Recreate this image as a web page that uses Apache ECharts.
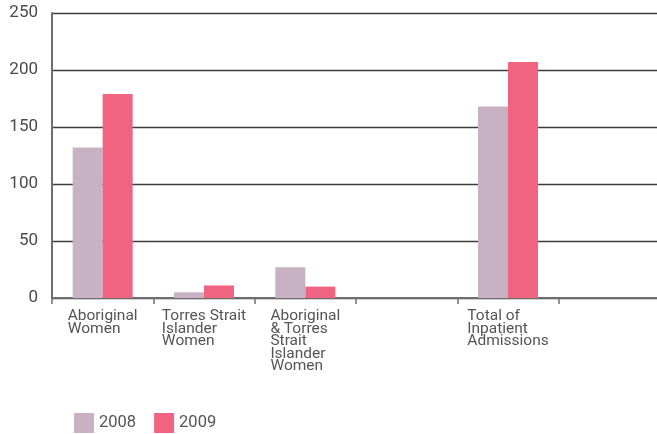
<!doctype html>
<html lang="en">
<head>
    <meta charset="UTF-8">
    <title>Inpatient admissions</title>
    <script src="https://cdn.jsdelivr.net/npm/echarts@6/dist/echarts.min.js"></script>
    <style>
        html, body { margin: 0; padding: 0; background: #fff; }
        #chart { width: 657px; height: 434px; }
    </style>
</head>
<body>
<div id="chart"></div>
<script>
    // categories (two empty slots as in the original layout)
    const categories = [
        'Aboriginal\nWomen',
        'Torres Strait\nIslander\nWomen',
        'Aboriginal\n& Torres\nStrait\nIslander\nWomen',
        '',
        'Total of\nInpatient\nAdmissions',
        ''
    ];
    const values2008 = [132, 5, 27, null, 168, null];
    const values2009 = [179, 11, 10, null, 207, null];
    const yTicks = { min: 0, max: 250, interval: 50 };

    const myChart = echarts.init(document.getElementById('chart'));
    const option = {
        animation: false,
        grid: { left: 52, width: 608, top: 13, bottom: 136, outerBoundsMode: 'none', containLabel: false },
        legend: {
            left: 74,
            top: 413,
            padding: 0,
            itemWidth: 20,
            itemHeight: 20,
            itemGap: 18,
            icon: 'rect',
            textStyle: { fontFamily: 'Roboto', fontSize: 16.5, color: '#555' },
            data: ['2008', '2009']
        },
        xAxis: {
            type: 'category',
            data: categories,
            axisLine: { lineStyle: { color: '#6e6e6e', width: 2 } },
            axisTick: { show: true, length: 6, lineStyle: { color: '#6e6e6e', width: 1.5 } },
            axisLabel: {
                interval: 0,
                align: 'center',
                margin: 12,
                formatter: (value) => value ? value.split('\n').map(l => '{a|' + l + '}').join('\n') : '',
                rich: {
                    a: { align: 'left', fontFamily: 'Roboto', fontSize: 15.5, lineHeight: 12.5, color: '#555' }
                }
            }
        },
        yAxis: {
            type: 'value',
            min: yTicks.min,
            max: yTicks.max,
            interval: yTicks.interval,
            axisLine: { show: true, lineStyle: { color: '#6e6e6e', width: 2 } },
            axisTick: { show: false },
            axisLabel: { fontFamily: 'Roboto', fontSize: 17, color: '#4a4a4a', margin: 14 },
            splitLine: { lineStyle: { color: '#3c3c3c', width: 1.3 } }
        },
        series: [
            {
                name: '2008',
                type: 'bar',
                data: values2008,
                barWidth: 30,
                barGap: '0%',
                itemStyle: { color: '#c9b1c4' }
            },
            {
                name: '2009',
                type: 'bar',
                data: values2009,
                barWidth: 30,
                barGap: '0%',
                itemStyle: { color: '#f06481' }
            }
        ]
    };
    myChart.setOption(option);
</script>
</body>
</html>
